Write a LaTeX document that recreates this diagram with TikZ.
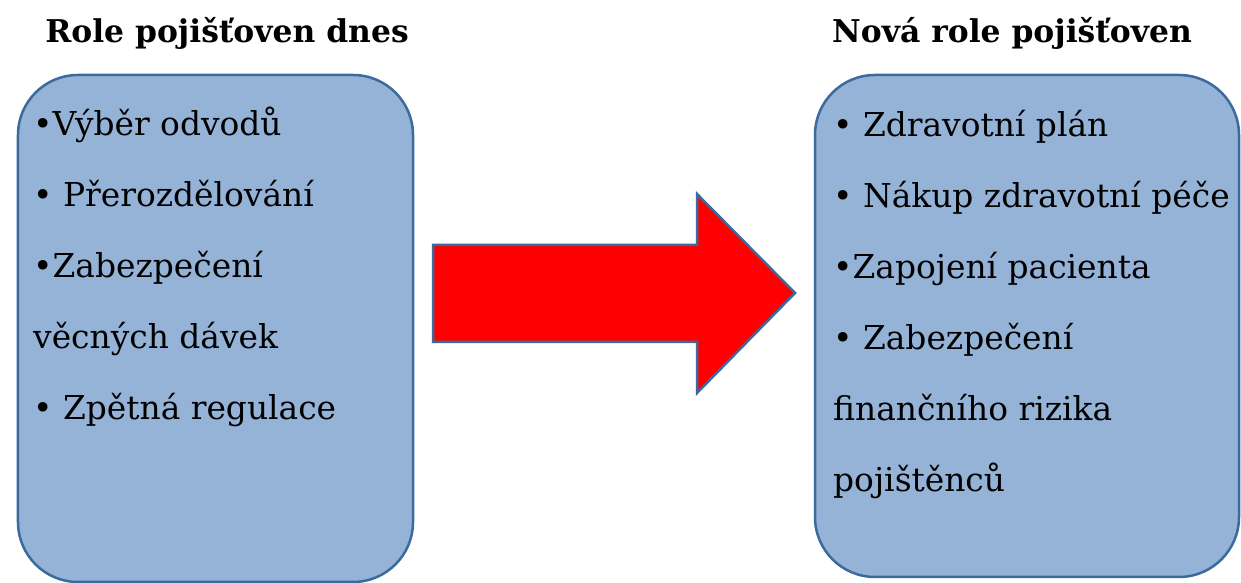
\documentclass[tikz,border=0pt]{standalone}
\usepackage{fontspec}
\setmainfont{DejaVu Serif}
\definecolor{boxblue}{HTML}{95B3D7}
\definecolor{edgeblue}{HTML}{3C6A9E}

\begin{document}
\begin{tikzpicture}[x=1bp, y=1bp,
  rolebox/.style={fill=boxblue, draw=edgeblue, line width=2.5bp, rounded corners=60bp, inner sep=0pt},
  item/.style={anchor=base west, inner sep=0pt, font=\fontsize{33}{39}\selectfont},
  title/.style={anchor=base, inner sep=0pt, font=\bfseries\fontsize{31.5}{37}\selectfont}]
\useasboundingbox (0,0) rectangle (1241,583);
%%%%%%%%% left box
\node[rolebox, minimum width=395bp, minimum height=507bp] (dnesbox) at (215.5,254.5) {};
\node[title] (dnes) at (227,540) {Role pojišťoven dnes};
\foreach[count=\i, evaluate={\y=447-71*(\i-1)}] \t in {•Výběr odvodů, • Přerozdělování, •Zabezpečení, věcných dávek, • Zpětná regulace}
			\node[item] (dnes\i) at (33,\y) {\t};

%%%%%%%%% right box
\node[rolebox, minimum width=424bp, minimum height=502bp] (novabox) at (1027,257) {};
\node[title] (nova) at (1012,540) {Nová role pojišťoven};
\foreach[count=\i, evaluate={\y=446-71*(\i-1)}] \t in {• Zdravotní plán, • Nákup zdravotní péče, •Zapojení pacienta, • Zabezpečení, finančního rizika, pojištěnců}
			\node[item] (nova\i) at (833,\y) {\t};

%%%%%%%%% arrow
\filldraw[red, draw=edgeblue, line width=2.5bp] (433,338) -- (697,338) -- (697,389)
              -- (795,290) -- (697,190) -- (697,241) -- (433,241) -- cycle;
\end{tikzpicture}
\end{document}
